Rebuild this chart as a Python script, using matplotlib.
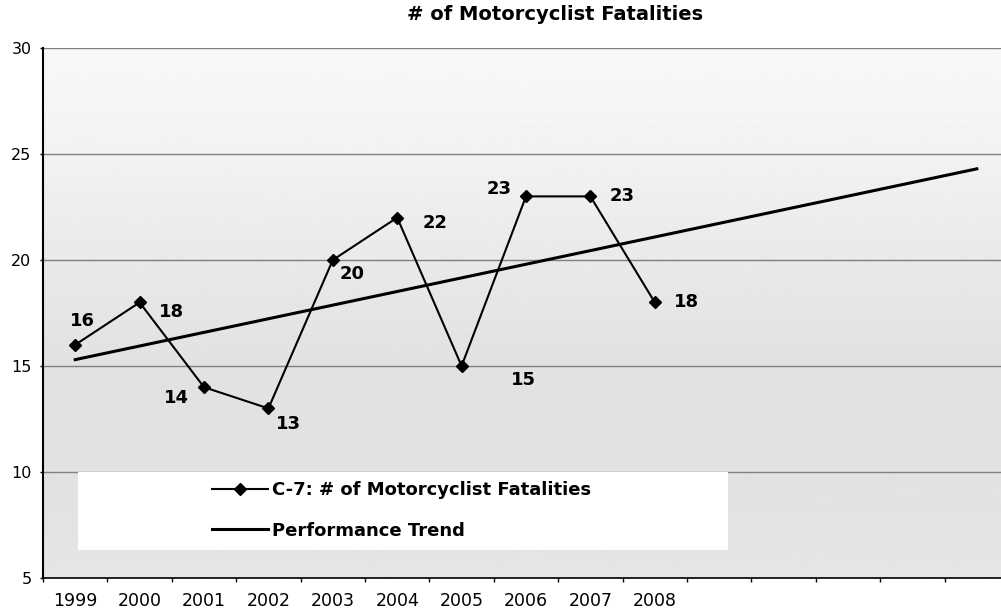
import numpy as np
import matplotlib
matplotlib.use("Agg")
import matplotlib.pyplot as plt
from matplotlib.patches import Rectangle

# Chart values.
years = ["1999", "2000", "2001", "2002", "2003",
         "2004", "2005", "2006", "2007", "2008"]
fatalities = [16, 18, 14, 13, 20, 22, 15, 23, 23, 18]
n_categories = 15           # axis leaves room for 5 projected periods
trend_ends = [15.3, 24.3]   # trend value at first and last category

# Data label offsets in pixels (Excel put them all over the place).
label_offsets = [(7, 24), (32, -10), (-28, -11), (20, -16), (19, -14),
                 (38, -5), (62, -14), (-27, 7), (32, 0), (32, 0)]

# The scan is wide-ish, DejaVu's metrics fit it better than Arial's.
plt.rcParams["font.family"] = ["DejaVu Sans"]

fig = plt.figure(figsize=(10.01, 6.13), dpi=100)
ax = fig.add_axes([43 / 1001, 35 / 613, 966 / 1001, 530 / 613])

# Grey stippled fill of the scan, approximated with a vertical gradient.
levels = np.linspace(5, 30, 200)
shade = np.interp(levels, [5, 10, 15, 20, 25, 30],
                  [0.90, 0.885, 0.885, 0.915, 0.95, 0.975])
ax.imshow(shade[:, None], cmap="gray", vmin=0, vmax=1, origin="lower",
          extent=[-0.5, n_categories - 0.5, 5, 30], aspect="auto",
          interpolation="bilinear", zorder=0)

ax.set_xlim(-0.5, n_categories - 0.5)
ax.set_ylim(5, 30)

# White legend area at the bottom of the plot.
ax.add_patch(Rectangle((0.0362, 0.0528), 0.673, 0.1472,
                       transform=ax.transAxes, fc="white", ec="none",
                       zorder=1.6))

x = np.arange(len(years))
trend, = ax.plot([0, n_categories - 1], trend_ends, color="black",
                 lw=2.2, zorder=3, label="Performance Trend")
series, = ax.plot(x, fatalities, color="black", lw=1.5, marker="D",
                  ms=6, zorder=4, label="C-7: # of Motorcyclist Fatalities")

for xi, v, off in zip(x, fatalities, label_offsets):
    ax.annotate(str(v), (xi, v), xytext=off, textcoords="offset pixels",
                ha="center", va="center", fontsize=13, weight="bold",
                zorder=5)

# Axes styling
ax.set_yticks(range(5, 31, 5))
ax.yaxis.grid(True, color="#808080", lw=1)
ax.tick_params(axis="y", length=2.2, width=1, pad=6, labelsize=11.5)

ax.set_xticks(np.arange(-0.5, n_categories, 1))
ax.set_xticklabels([])
ax.set_xticks(x, minor=True)
ax.set_xticklabels(years, minor=True)
ax.tick_params(axis="x", which="major", length=3, width=1, direction="out")
ax.tick_params(axis="x", which="minor", length=0, pad=10, labelsize=12.5)

for side in ["top", "right"]:
    ax.spines[side].set_visible(False)
ax.spines["left"].set_linewidth(1.5)
ax.spines["bottom"].set_linewidth(1.2)

ax.legend(handles=[series, trend], loc="center left",
          bbox_to_anchor=(212 / 1001, 102.5 / 613),
          bbox_transform=fig.transFigure, frameon=False,
          prop={"weight": "bold", "size": 13}, borderpad=0,
          borderaxespad=0, handlelength=3.1, handletextpad=0.2,
          labelspacing=1.25)

fig.text(555 / 1001, 1 - 15 / 613, "# of Motorcyclist Fatalities",
         ha="center", va="center", fontsize=14, weight="bold")

fig.savefig("out.png", dpi=100)
